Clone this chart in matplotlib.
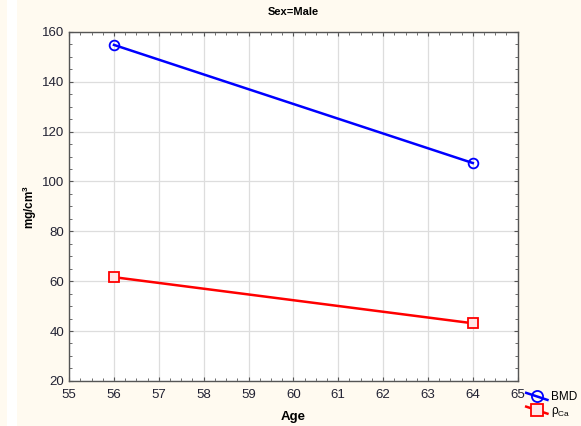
import matplotlib
matplotlib.use('Agg')
import matplotlib.pyplot as plt
from matplotlib.ticker import MultipleLocator, AutoMinorLocator
from matplotlib.patches import Rectangle
from matplotlib.lines import Line2D
from matplotlib.legend_handler import HandlerBase

plt.rcParams['font.family'] = ['Liberation Sans', 'DejaVu Sans']

age = [56, 64]
bmd = [154.8, 107.4]
rho_ca = [61.6, 43.1]


class SlantHandler(HandlerBase):
    # legend key like the original: short slanted line with marker on it
    def create_artists(self, legend, orig, xd, yd, width, height, fontsize, trans):
        ln = Line2D([-xd, -xd + width], [-yd + height * 0.9, -yd + height * 0.05],
                    color=orig.get_color(), lw=orig.get_linewidth())
        mk = Line2D([-xd + width / 2], [-yd + height / 2], marker=orig.get_marker(),
                    ms=orig.get_markersize() + 1, mfc=orig.get_markerfacecolor(),
                    mec=orig.get_markeredgecolor(), mew=orig.get_markeredgewidth(), ls='none')
        ln.set_transform(trans)
        mk.set_transform(trans)
        return [ln, mk]


fig = plt.figure(figsize=(5.81, 4.26), dpi=100)
fig.patch.set_facecolor('#fffaf0')
fig.patches.append(Rectangle((0.012, 0), 0.017, 1, transform=fig.transFigure,
                             facecolor='white', edgecolor='none', zorder=0))

ax = fig.add_axes([0.119, 0.106, 0.772, 0.819])
ax.set_facecolor('white')

l1, = ax.plot(age, bmd, color='#0000ff', lw=1.8, marker='o', ms=7,
              mfc='none', mec='#0000ff', mew=1.3, label='BMD', zorder=3)
l2, = ax.plot(age, rho_ca, color='#ff0000', lw=1.8, marker='s', ms=7,
              mfc='#ffe8e8', mec='#ff0000', mew=1.3,
              label=r'$\mathregular{\rho_{Ca}}$', zorder=3)

ax.set_xlim(55, 65)
ax.set_ylim(20, 160)
ax.xaxis.set_major_locator(MultipleLocator(1))
ax.yaxis.set_major_locator(MultipleLocator(20))
ax.xaxis.set_minor_locator(AutoMinorLocator(4))
ax.yaxis.set_minor_locator(AutoMinorLocator(4))
ax.tick_params(which='both', direction='in', top=True, right=True,
               color='#555555', labelsize=9.5, labelcolor='#222233')
ax.tick_params(which='major', length=3)
ax.tick_params(which='minor', length=2)
ax.tick_params(axis='x', pad=6)
ax.grid(True, which='major', color='#dddddd', lw=0.9, zorder=0)
for s in ax.spines.values():
    s.set_color('#555555')
    s.set_linewidth(1.0)

ax.set_title('Sex=Male', fontsize=8, fontweight='bold', pad=12)
ax.set_xlabel('Age', fontsize=9.5, fontweight='bold', labelpad=7)
ax.set_ylabel(r'mg/cm$^\mathregular{3}$', fontsize=8.5, fontweight='bold', labelpad=2)

ax.legend(handles=[l1, l2], handler_map={Line2D: SlantHandler()},
          loc='upper left', bbox_to_anchor=(1.019, -0.03), frameon=False,
          fontsize=8.5, handlelength=1.8, handletextpad=0.3, labelspacing=0.15,
          borderaxespad=0, borderpad=0)

fig.savefig('out.png', dpi=100, facecolor=fig.get_facecolor())
